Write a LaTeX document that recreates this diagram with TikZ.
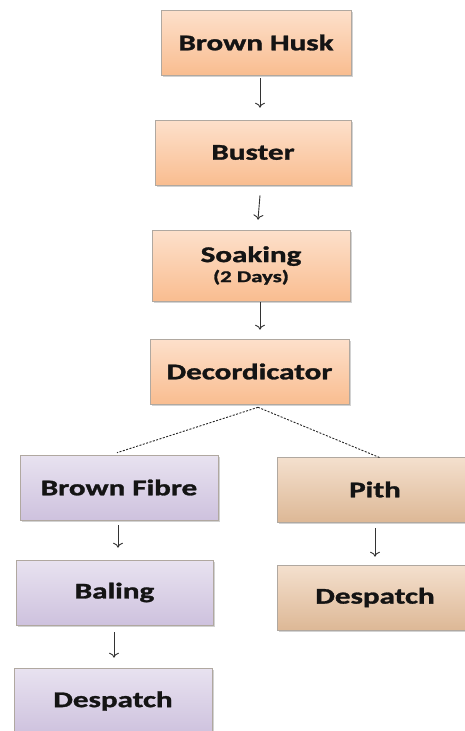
\documentclass[tikz,border=0pt]{standalone}
\usepackage{fontspec}
\setmainfont{Carlito}[BoldFeatures={FakeBold=1.2}]
\usetikzlibrary{shadows,arrows.meta}
\definecolor{orTop}{HTML}{FDE0CB}
\definecolor{orBot}{HTML}{F9BD90}
\definecolor{puTop}{HTML}{E8E2F0}
\definecolor{puBot}{HTML}{CEC2DE}
\definecolor{brTop}{HTML}{F4E0CE}
\definecolor{brBot}{HTML}{DDB896}
\definecolor{edge}{HTML}{B0A8A0}
\definecolor{txt}{HTML}{141414}
\newcommand{\lbl}[1]{\scalebox{1.38}[1]{\bfseries #1}}
\tikzset{
  box/.style={draw=edge, line width=0.6pt, minimum width=197pt, minimum height=65pt,
    inner sep=0pt, align=center, text=txt, font=\fontsize{22.5}{24}\selectfont,
    drop shadow={shadow xshift=1.5pt, shadow yshift=-2pt, opacity=0.35, fill=gray}},
  orbox/.style={box, top color=orTop, bottom color=orBot},
  pubox/.style={box, top color=puTop, bottom color=puBot},
  brbox/.style={box, top color=brTop, bottom color=brBot},
  arr/.style={draw=black!80, line width=0.9pt, -{To[length=5pt,width=10pt]}},
  dashline/.style={draw=black!85, line width=0.9pt, dash pattern=on 2pt off 1.5pt}
}
\begin{document}
\begin{tikzpicture}[x=1pt,y=1pt]
\useasboundingbox (0,0) rectangle (465,-731);
\clip (0,0) rectangle (465,-731);
\fill[white] (0,0) rectangle (465,-731);
\node[orbox, minimum width=190pt] (husk) at (256,-42.5) {\lbl{Brown Husk}};
\node[orbox, minimum width=196pt] (buster) at (253,-152.5) {\lbl{Buster}};
\node[orbox, minimum width=198pt, minimum height=71pt] (soak) at (251,-265.5)
  {\lbl{Soaking}\\[-4pt]{\fontsize{16.5}{17}\selectfont\lbl{(2 Days)}}};
\node[orbox, minimum width=199pt] (dec) at (249.5,-371.5) {\lbl{Decordicator}};
\node[pubox, minimum width=198pt] (fibre) at (119,-487.5) {\lbl{Brown Fibre}};
\node[pubox] (baling) at (114.5,-592.5) {\lbl{Baling}};
\node[pubox, minimum width=198pt, minimum height=66pt] (desL) at (113,-701) {\lbl{Despatch}};
\node[brbox, minimum width=196pt] (pith) at (375,-489.5) {\lbl{Pith}};
\node[brbox, minimum width=196pt] (desR) at (375,-597.5) {\lbl{Despatch}};
\draw[arr] ([xshift=4pt,yshift=-3pt]husk.south) -- ([xshift=7pt,yshift=12pt]buster.north);
\draw[arr] ([xshift=7pt,yshift=-10pt]buster.south) -- ([xshift=7pt,yshift=10pt]soak.north);
\draw[arr] ([xshift=9pt,yshift=-1pt]soak.south) -- ([xshift=10.5pt,yshift=9pt]dec.north);
\draw[arr] ([xshift=-1pt,yshift=-5pt]fibre.south) -- ([xshift=3.5pt,yshift=12pt]baling.north);
\draw[arr] ([xshift=-0.5pt,yshift=-7pt]baling.south) -- ([xshift=1pt,yshift=10pt]desL.north);
\draw[arr] ([yshift=-6pt]pith.south) -- ([yshift=8pt]desR.north);
\draw[dashline] ([xshift=8.5pt,yshift=-3pt]dec.south) -- ([xshift=-2pt,yshift=2pt]fibre.north);
\draw[dashline] ([xshift=8.5pt,yshift=-3pt]dec.south) -- ([xshift=5pt,yshift=-1pt]pith.north);
\end{tikzpicture}
\end{document}
